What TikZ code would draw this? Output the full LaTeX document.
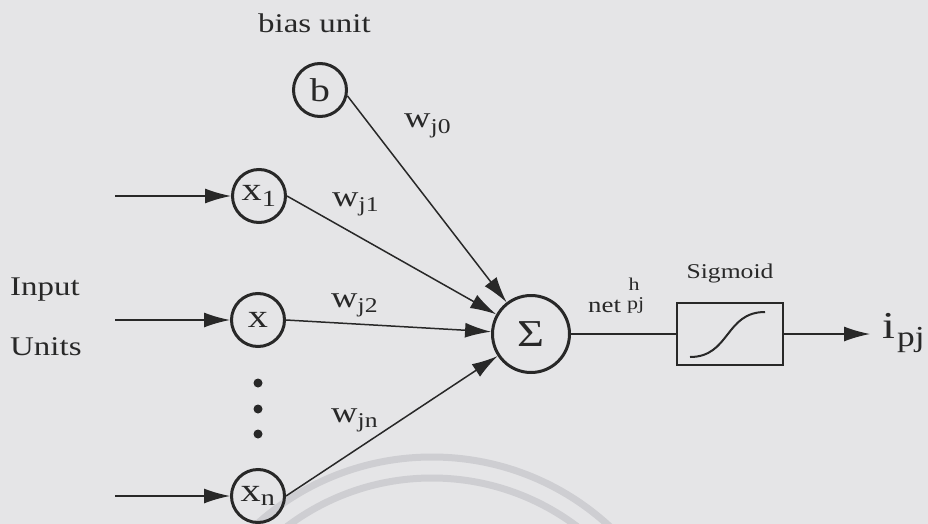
\documentclass[tikz,border=0pt]{standalone}
\usepackage{amsmath}
\usepackage{fontspec}
\setmainfont{Liberation Serif}[FakeStretch=1.22]
\usepackage{tikz}
\usetikzlibrary{positioning,arrows.meta}

\definecolor{paper}{RGB}{229,229,231}
\definecolor{ink}{RGB}{40,40,40}
\definecolor{seal}{RGB}{206,206,210}

\newcommand{\fsz}[1]{\fontsize{#1}{#1}\selectfont}

\begin{document}
\begin{tikzpicture}[x=1pt,y=-1pt,
	>={Latex[length=26pt,width=15pt]},
	unit/.style={circle,draw=ink,line width=3pt,minimum size=53pt,inner sep=0pt,text=ink,font=\fsz{33}},
	lbl/.style={text=ink,inner sep=0pt}]
	\fill[paper] (0,0) rectangle (928,524);
	\useasboundingbox (0,0) rectangle (928,524);
	% stamp rings behind the net
	\begin{scope}
	\clip (0,0) rectangle (928,524);
	\draw[seal,line width=7pt] (432,719) circle[radius=262];
	\draw[seal,line width=7pt] (432,719) circle[radius=241];
	\end{scope}
	% units
	\node[unit] (b) at (320,90) {b};
	\node[unit] (x1) at (259,196) {x\textsubscript{1}};
	\node[unit] (x2) at (258,320) {x};
	\node[unit] (xn) at (258,496) {x\textsubscript{n}};
	\node[unit,minimum size=77pt,font=\fsz{38}] (sum) at (531,334) {Σ};
	\node[draw=ink,line width=1.6pt,minimum width=106pt,minimum height=62pt,inner sep=0pt] (sig) at (730,334) {};
	\draw[ink,line width=2pt] (690,357) .. controls (730,357) and (725,312) .. (765,312);
	\foreach \y in {383,409,434}
		\fill[ink] (258,\y) circle[radius=4.5];
	\coordinate (in1) at (115,196);
	\coordinate (in2) at (115,320);
	\coordinate (inn) at (115,496);
	\coordinate (out) at (870,334);
	% labels
	\node[lbl,anchor=base west,font=\fsz{27}] (bias) at (258,33) {bias unit};
	\node[lbl,anchor=base west,font=\fsz{27}] (inp) at (10,295) {Input};
	\node[lbl,anchor=base west,font=\fsz{27}] (units) at (10,355) {Units};
	\node[lbl,anchor=base west,font=\fsz{30}] (w0) at (404,128) {w\textsubscript{j0}};
	\node[lbl,anchor=base west,font=\fsz{30}] (w1) at (332,206) {w\textsubscript{j1}};
	\node[lbl,anchor=base west,font=\fsz{30}] (w2) at (331,307) {w\textsubscript{j2}};
	\node[lbl,anchor=base west,font=\fsz{30}] (wn) at (331,422) {w\textsubscript{jn}};
	\node[lbl,anchor=base west,font=\fsz{22}] (net) at (588,312) {net};
	\node[lbl,anchor=base,font=\fsz{18}] (neth) at (634,290) {h};
	\node[lbl,anchor=base west,font=\fsz{18}] (netpj) at (627,309) {pj};
	\node[lbl,above=19pt of sig,font=\fsz{21}] (sigt) {Sigmoid};
	\node[lbl,anchor=base west,font=\fsz{38}] (ipj) at (882,338)
		{i\hspace{2pt}\raisebox{-8pt}{\fsz{29}pj}};
	% connections
	\begin{scope}[ink,line width=1.5pt]
	\draw[->] (in1) -- (x1);
	\draw[->] (in2) -- (x2);
	\draw[->] (inn) -- (xn);
	\draw[->] (b.-12) -- (sum);
	\draw[->] (x1.east) -- (sum);
	\draw[->] (x2.east) -- (sum);
	\draw[->] (xn.east) -- (sum);
	\draw (sum) -- (sig);
	\draw[->] (sig) -- (out);
	\end{scope}
\end{tikzpicture}
\end{document}
